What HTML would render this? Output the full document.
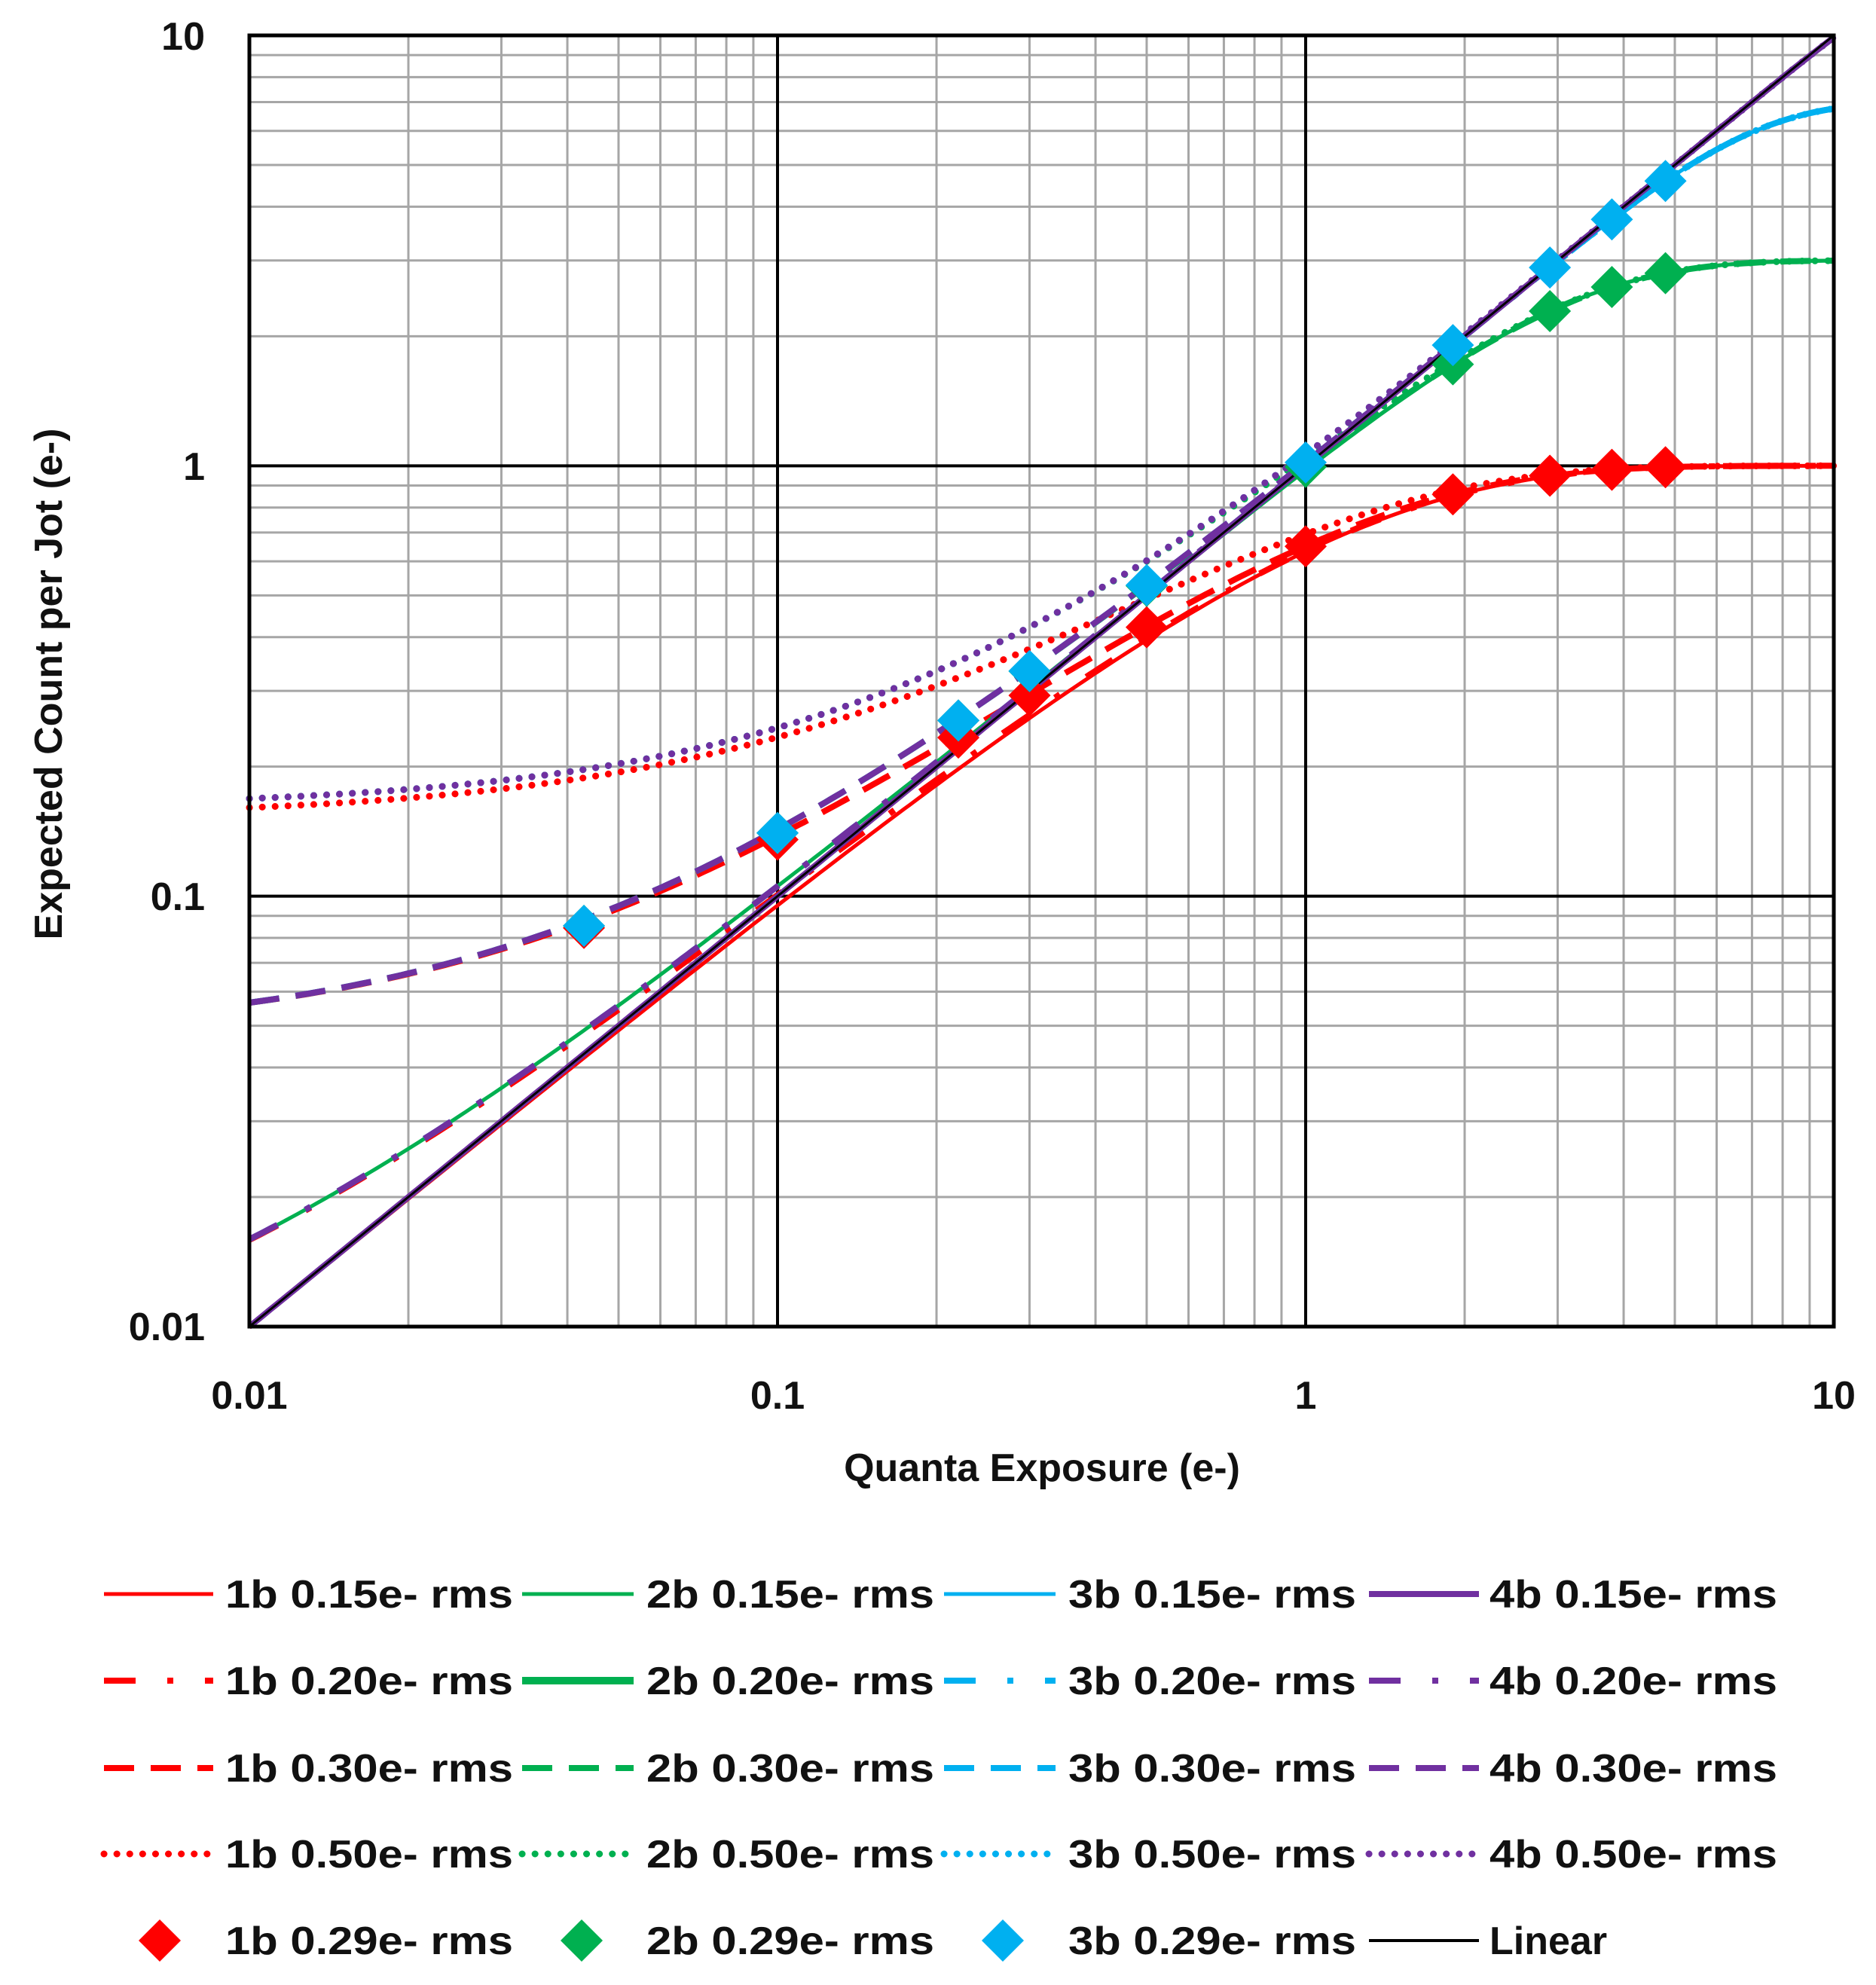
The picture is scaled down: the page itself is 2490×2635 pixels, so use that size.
<!DOCTYPE html>
<html><head><meta charset="utf-8"><style>
html,body{margin:0;padding:0;background:#fff}
svg{display:block}
text{font-family:"Liberation Sans",sans-serif;font-weight:bold;fill:#111}
</style></head><body>
<svg id="s" width="2490" height="2635" viewBox="0 0 2490 2635" xmlns="http://www.w3.org/2000/svg">
<g id="grid"></g>
<g id="series"></g>
<rect x="331" y="47" width="2103" height="1714" fill="none" stroke="#000" stroke-width="5"/>
<g font-size="52">
<text x="272" y="66" text-anchor="end">10</text>
<text x="272" y="637" text-anchor="end">1</text>
<text x="272" y="1208" text-anchor="end">0.1</text>
<text x="272" y="1779" text-anchor="end">0.01</text>
<text x="331" y="1870" text-anchor="middle">0.01</text>
<text x="1032" y="1870" text-anchor="middle">0.1</text>
<text x="1733" y="1870" text-anchor="middle">1</text>
<text x="2434" y="1870" text-anchor="middle">10</text>
</g>
<text x="1383" y="1966" text-anchor="middle" font-size="52">Quanta Exposure (e-)</text>
<text transform="translate(82,908) rotate(-90)" text-anchor="middle" font-size="52">Expected Count per Jot (e-)</text>
<g id="legend" font-size="52"></g>
</svg>
<script>
const NS="http://www.w3.org/2000/svg";
const L=331,R=2434,T=47,B=1761,DX=(R-L)/3,DY=(B-T)/3;
const X=x=>L+(Math.log10(x)+2)*DX, Y=y=>B-(Math.log10(y)+2)*DY;
function el(p,tag,a,txt){const e=document.createElementNS(NS,tag);for(const k in a)e.setAttribute(k,a[k]);if(txt!==undefined)e.textContent=txt;p.appendChild(e);return e;}
const g=document.getElementById('grid');
for(let d=-2;d<1;d++)for(let m=2;m<10;m++){const v=m*Math.pow(10,d);
 el(g,'line',{x1:X(v),x2:X(v),y1:T,y2:B,stroke:'#a6a6a6','stroke-width':3});
 el(g,'line',{x1:L,x2:R,y1:Y(v),y2:Y(v),stroke:'#a6a6a6','stroke-width':3});}
[0.1,1].forEach(v=>{el(g,'line',{x1:X(v),x2:X(v),y1:T,y2:B,stroke:'#000','stroke-width':4});
 el(g,'line',{x1:L,x2:R,y1:Y(v),y2:Y(v),stroke:'#000','stroke-width':4});});
function f(x,bits){const M=Math.pow(2,bits)-1;let p=Math.exp(-x),cdf=0,s=0;
 for(let k=0;k<M;k++){cdf+=p;s+=1-cdf;p=p*x/(k+1);}return s;}
const b0={0.15:0,0.2:0.006,0.29:0.044,0.3:0.047,0.5:0.16};
function yv(x,bits,n){let b=b0[n];if(n==0.5&&bits==1)b=0.152;return f(x,bits)+b*Math.exp(-0.9*x);}
function path(bits,n){let d='';for(let i=0;i<=300;i++){const x=Math.pow(10,-2+3*i/300);let y=yv(x,bits,n);
 y=Math.min(Math.max(y,0.0095),10.5);d+=(i?'L':'M')+X(x).toFixed(1)+','+Y(y).toFixed(1);}return d;}
const col={1:'#ff0000',2:'#00b050',3:'#00b0f0',4:'#7030a0'};
const sty={0.15:{w:5,da:''},0.2:{w:8,da:'42 42 8 42'},0.3:{w:8,da:'40 22'},0.5:{w:9,da:'0.1 17',cap:'round'}};
function st(b,n){let s=Object.assign({},sty[n]);if(b==4&&n==0.15)s.w=8;if(b==2&&n==0.2){s.w=10;s.da='';}return s;}
const S=document.getElementById('series');
[0.5,0.3,0.2,0.15].forEach(n=>{[1,2,3,4].forEach(b=>{const s=st(b,n);let w=s.w;if(b==2&&n==0.2)w=5;
 el(S,'path',{d:path(b,n),fill:'none',stroke:col[b],'stroke-width':w,'stroke-dasharray':s.da,'stroke-linecap':s.cap||'butt'});});});
el(S,'line',{x1:X(0.01),y1:Y(0.01),x2:X(10),y2:Y(10),stroke:'#000','stroke-width':3});
function dia(p,cx,cy,c){const r=28;el(p,'path',{d:`M${cx},${cy-r}L${cx+r},${cy}L${cx},${cy+r}L${cx-r},${cy}Z`,fill:c});}
const mx=[0.043,0.1,0.22,0.3,0.5,1,1.9,2.9,3.8,4.8];
mx.forEach(x=>dia(S,X(x),Y(yv(x,1,0.29)),col[1]));
mx.forEach(x=>dia(S,X(x),Y(yv(x,2,0.29)),col[2]));
mx.forEach(x=>dia(S,X(x),Y(yv(x,3,0.29)),col[3]));
const Lg=document.getElementById('legend');
const rows=[2116,2231,2347,2461,2576];
const cols=[[138,283,299],[693,841,858],[1253,1401,1418],[1817,1963,1977]];
const names=['0.15','0.20','0.30','0.50'];const ns=[0.15,0.2,0.3,0.5];
for(let r=0;r<4;r++)for(let c=0;c<4;c++){const s=st(c+1,ns[r]),y=rows[r],cc=cols[c];
 el(Lg,'line',{x1:cc[0],x2:cc[1],y1:y,y2:y,stroke:col[c+1],'stroke-width':s.w,'stroke-dasharray':s.da,'stroke-linecap':s.cap||'butt'});
 el(Lg,'text',{x:cc[2],y:y+18,textLength:382,lengthAdjust:'spacingAndGlyphs'},`${c+1}b ${names[r]}e- rms`);}
const y5=rows[4];
[[212,1],[772,2],[1331,3]].forEach((m,i)=>{dia(Lg,m[0],y5,col[m[1]]);
 el(Lg,'text',{x:cols[i][2],y:y5+18,textLength:382,lengthAdjust:'spacingAndGlyphs'},`${m[1]}b 0.29e- rms`);});
el(Lg,'line',{x1:1817,x2:1963,y1:y5,y2:y5,stroke:'#000','stroke-width':4});
el(Lg,'text',{x:1977,y:y5+18},'Linear');
</script>
</body></html>
